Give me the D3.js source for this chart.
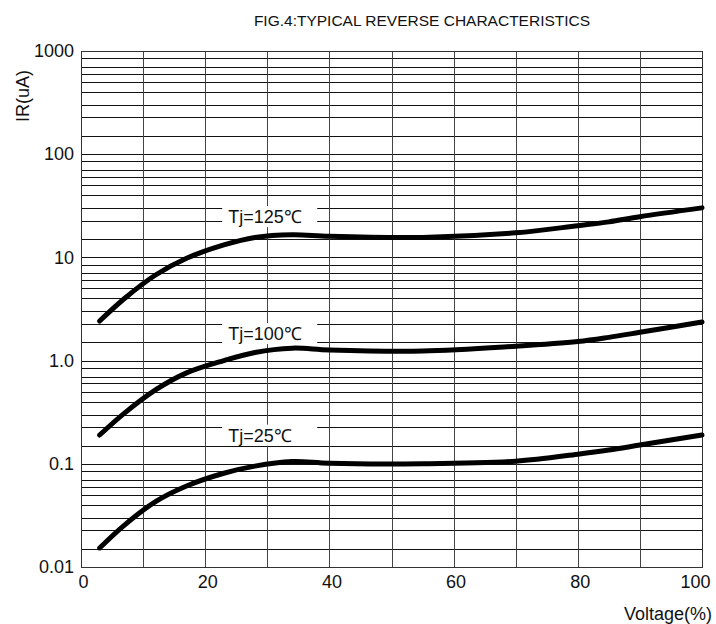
<!DOCTYPE html>
<html>
<head>
	<meta charset="utf-8">
	<title>Typical Reverse Characteristics</title>
	<script type="text/javascript" src="https://cdn.jsdelivr.net/npm/d3@7"></script>
	<style>
		body {
			margin: 0;
			background: #fff;
			font-family: "Liberation Sans", Arial, sans-serif;
		}
	</style>
</head>

<body>

	<div id="chart"></div>

	<script>

	// data

	const voltage = [3, 7, 12, 17, 23, 28, 34, 40, 55, 70, 80, 85, 90, 100];
	const ir125   = [2.42, 4.0, 6.75, 9.8, 13.2, 15.6, 16.6, 16.0, 15.6, 17.3, 20.3, 22.1, 24.8, 30.2];
	const ir100   = [0.19, 0.31, 0.52, 0.76, 1.0, 1.2, 1.32, 1.27, 1.24, 1.38, 1.53, 1.68, 1.88, 2.37];
	const ir25    = [0.0153, 0.0255, 0.043, 0.061, 0.081, 0.095, 0.105, 0.101, 0.1, 0.106, 0.124, 0.136, 0.152, 0.19];

	const seriesNames = ["Tj=125℃", "Tj=100℃", "Tj=25℃"];
	const labelX      = [23.7, 23.7, 23.7];
	const labelY      = [21.5, 1.58, 0.164];

	const xTicks      = [0, 20, 40, 60, 80, 100];
	const xGrid       = [10, 20, 30, 40, 50, 60, 70, 80, 90];
	const yTicks      = [0.01, 0.1, 1, 10, 100, 1000];
	const yTickLabels = ["0.01", "0.1", "1.0", "10", "100", "1000"];
	// minor lines inside each decade, as drawn on the sheet
	const yMinor      = [1.5, 2.27, 3, 4, 5, 6, 7, 8.5];

	const title  = "FIG.4:TYPICAL REVERSE CHARACTERISTICS";
	const xTitle = "Voltage(%)";
	const yTitle = "IR(uA)";

	// layout

	const width  = 716;
	const height = 624;
	const margin = { top: 51, right: 14, bottom: 57, left: 81 };

	const svg = d3.select("#chart")
		.append("svg")
		.attr("width", width)
		.attr("height", height)
		.attr("font-family", "'Liberation Sans', Arial, sans-serif");

	const x = d3.scaleLinear()
		.domain([0, 100])
		.range([margin.left, width - margin.right]);

	const y = d3.scaleLog()
		.domain([0.01, 1000])
		.range([height - margin.bottom, margin.top]);

	// grid
	const minorLines = [];
	yTicks.slice(0, -1).forEach(d => yMinor.forEach(m => minorLines.push(d * m)));

	const grid = svg.append("g")
		.attr("stroke", "#111")
		.attr("stroke-width", 1)
		.attr("shape-rendering", "crispEdges");

	grid.selectAll(".h")
		.data(yTicks.concat(minorLines))
		.join("line")
		.attr("class", "h")
		.attr("x1", x(0))
		.attr("x2", x(100))
		.attr("y1", d => Math.round(y(d)) + 0.5)
		.attr("y2", d => Math.round(y(d)) + 0.5);

	grid.selectAll(".v")
		.data(xGrid)
		.join("line")
		.attr("class", "v")
		.attr("stroke", "#444")
		.attr("x1", d => Math.round(x(d)) + 0.5)
		.attr("x2", d => Math.round(x(d)) + 0.5)
		.attr("y1", y(1000))
		.attr("y2", y(0.01));

	svg.append("rect")
		.attr("x", x(0) + 0.5)
		.attr("y", y(1000) + 0.5)
		.attr("width", x(100) - x(0))
		.attr("height", y(0.01) - y(1000))
		.attr("fill", "none")
		.attr("stroke", "#333")
		.attr("stroke-width", 1.3)
		.attr("shape-rendering", "crispEdges");

	// label boxes go over the grid, under the curves
	const labels = svg.append("g");
	seriesNames.forEach((name, i) => {
		const lx = x(labelX[i]);
		const ly = y(labelY[i]);
		labels.append("rect")
			.attr("x", lx - 6)
			.attr("y", ly - 17)
			.attr("width", 95)
			.attr("height", 21)
			.attr("fill", "#fff");
		labels.append("text")
			.attr("x", lx)
			.attr("y", ly)
			.attr("font-size", 18)
			.attr("fill", "#111")
			.text(name);
	});

	// curves
	const line = d3.line()
		.x((d, i) => x(voltage[i]))
		.y(d => y(d))
		.curve(d3.curveCatmullRom.alpha(0.5));

	svg.append("g")
		.selectAll("path")
		.data([ir125, ir100, ir25])
		.join("path")
		.attr("fill", "none")
		.attr("stroke", "#000")
		.attr("stroke-width", 5)
		.attr("stroke-linecap", "round")
		.attr("stroke-linejoin", "round")
		.attr("d", line);

	// axes
	svg.append("g")
		.attr("transform", `translate(${x(0)},0)`)
		.call(d3.axisLeft(y)
			.tickValues(yTicks)
			.tickFormat((d, i) => yTickLabels[i])
			.tickSize(0)
			.tickPadding(7))
		.call(g => g.select(".domain").remove())
		.selectAll("text")
		.attr("font-size", 18)
		.attr("font-family", "'Liberation Sans', Arial, sans-serif")
		.attr("fill", "#111");

	svg.append("g")
		.attr("transform", `translate(0,${y(0.01)})`)
		.call(d3.axisBottom(x)
			.tickValues(xTicks)
			.tickFormat(d3.format("d"))
			.tickSize(0)
			.tickPadding(8))
		.call(g => g.select(".domain").remove())
		.selectAll("text")
		.attr("font-size", 18)
		.attr("font-family", "'Liberation Sans', Arial, sans-serif")
		.attr("fill", "#111")
		.attr("dx", (d, i, n) => i === n.length - 1 ? 8 : 2)
		.attr("text-anchor", (d, i, n) => i === n.length - 1 ? "end" : "middle");

	// titles
	svg.append("text")
		.attr("x", 422)
		.attr("y", 26)
		.attr("text-anchor", "middle")
		.attr("font-size", 15.5)
		.attr("fill", "#111")
		.text(title);

	svg.append("text")
		.attr("x", 712)
		.attr("y", 620)
		.attr("text-anchor", "end")
		.attr("font-size", 18)
		.attr("fill", "#111")
		.text(xTitle);

	svg.append("text")
		.attr("transform", "translate(29,96) rotate(-90)")
		.attr("text-anchor", "middle")
		.attr("font-size", 18)
		.attr("fill", "#111")
		.text(yTitle);

	</script>

</body>

</html>
